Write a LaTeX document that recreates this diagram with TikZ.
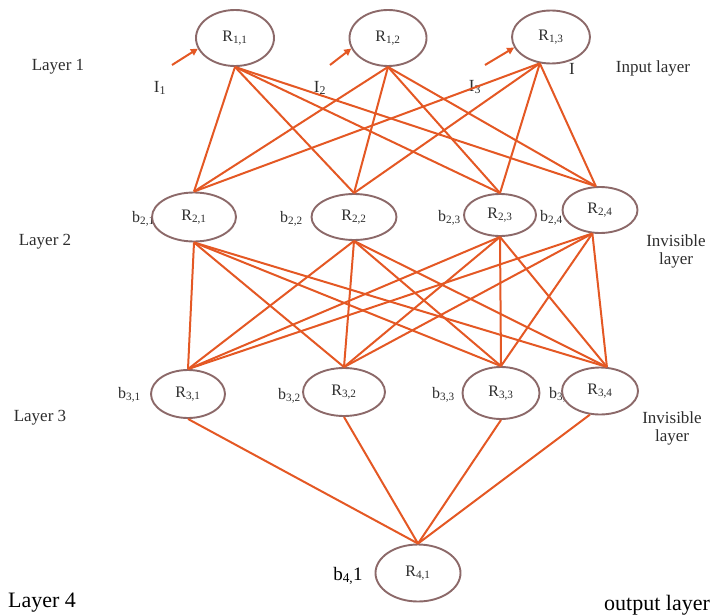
\documentclass[tikz,border=0pt]{standalone}
\usepackage{fontspec}
\setmainfont{Liberation Serif}
\usetikzlibrary{shapes.geometric,arrows.meta}
\definecolor{wirec}{RGB}{228,88,36}
\definecolor{ringc}{RGB}{140,105,105}
\definecolor{txtc}{RGB}{45,45,45}
\begin{document}
\begin{tikzpicture}[x=1pt,y=-1pt,
  neuron/.style={ellipse,draw=ringc,line width=1.9pt,fill=white,inner sep=0pt,text=txtc,font=\fontsize{16}{18}\selectfont},
  wire/.style={draw=wirec,line width=2pt},
  inarrow/.style={draw=wirec,line width=2pt,-{Triangle[length=7pt,width=7pt]}},
  lbl/.style={font=\fontsize{17}{18}\selectfont,align=center,inner sep=0pt,text=txtc},
  big/.style={font=\fontsize{22}{24}\selectfont,inner sep=0pt,text=black},
  bias/.style={font=\fontsize{16}{18}\selectfont,inner sep=0pt,anchor=west,text=txtc}]
\useasboundingbox (0,0) rectangle (711,615);

% side labels
\node[lbl] (L1) at (58,67) {Layer 1};
\node[lbl] (IL) at (653,68) {Input layer};
\node[lbl] (L2) at (45,242) {Layer 2};
\node[lbl] (HL1) at (676,251) {Invisible\\layer};
\node[lbl] (L3) at (40,418) {Layer 3};
\node[lbl] (HL2) at (672,428) {Invisible\\layer};
\node[big] (L4) at (42,603) {Layer 4};
\node[big] (OL) at (657,605) {output layer};

% input labels
\node[lbl] (I1) at (160,88) {I\textsubscript{1}};
\node[lbl] (I2) at (320,88) {I\textsubscript{2}};
\node[lbl] (I3) at (475,87) {I\textsubscript{3}};
\node[lbl] (Ix) at (572,69) {I};

% bias labels
\node[bias] (b21) at (132,219) {b\textsubscript{2,1}};
\node[bias] (b22) at (280,219) {b\textsubscript{2,2}};
\node[bias] (b23) at (438,218) {b\textsubscript{2,3}};
\node[bias] (b24) at (540,218) {b\textsubscript{2,4}};
\node[bias] (b31) at (118,395) {b\textsubscript{3,1}};
\node[bias] (b32) at (278,396) {b\textsubscript{3,2}};
\node[bias] (b33) at (432,395) {b\textsubscript{3,3}};
\node[bias] (b34) at (549,395) {b\textsubscript{3,4}};
\node[big,font=\fontsize{19}{20}\selectfont] (b41) at (348,576) {b\textsubscript{4,}1};

% neurons
\node[neuron,minimum width=78pt,minimum height=56pt] (R11) at (235,38) {R\textsubscript{1,1}};
\node[neuron,minimum width=77pt,minimum height=56pt] (R12) at (388,38) {R\textsubscript{1,2}};
\node[neuron,minimum width=78pt,minimum height=53pt] (R13) at (551,37) {R\textsubscript{1,3}};

\node[neuron,minimum width=84pt,minimum height=49pt] (R21) at (194,217) {R\textsubscript{2,1}};
\node[neuron,minimum width=85pt,minimum height=46pt] (R22) at (354,217) {R\textsubscript{2,2}};
\node[neuron,minimum width=72pt,minimum height=42pt] (R23) at (500,215) {R\textsubscript{2,3}};
\node[neuron,minimum width=75pt,minimum height=46pt] (R24) at (600,210) {R\textsubscript{2,4}};

\node[neuron,minimum width=74pt,minimum height=48pt] (R31) at (188,394) {R\textsubscript{3,1}};
\node[neuron,minimum width=82pt,minimum height=48pt] (R32) at (344,392) {R\textsubscript{3,2}};
\node[neuron,minimum width=77pt,minimum height=52pt] (R33) at (501,393) {R\textsubscript{3,3}};
\node[neuron,minimum width=76pt,minimum height=47pt] (R34) at (600,391) {R\textsubscript{3,4}};

\node[neuron,minimum width=85pt,minimum height=57pt] (R41) at (418,573) {R\textsubscript{4,1}};

% input arrows
\coordinate (i1) at (172,65);
\coordinate (i2) at (330,65);
\coordinate (i3) at (485,65);
\draw[inarrow] (i1) -- (R11.196);
\draw[inarrow] (i2) -- (R12.196);
\draw[inarrow] (i3) -- (R13.196);

% anchors where wires meet
\coordinate (s11) at (R11.south);
\coordinate (s12) at (R12.south);
\coordinate (s13) at (R13.-113);
\coordinate (n21) at (R21.north);
\coordinate (n22) at (R22.north);
\coordinate (n23) at (R23.north);
\coordinate (n24) at (R24.100);
\coordinate (s21) at (R21.south);
\coordinate (s22) at (R22.south);
\coordinate (s23) at (R23.south);
\coordinate (s24) at (R24.-108);
\coordinate (n31) at (R31.north);
\coordinate (n32) at (R32.north);
\coordinate (n33) at (R33.north);
\coordinate (n34) at (R34.74);
\coordinate (s31) at (R31.south);
\coordinate (s32) at (R32.south);
\coordinate (s33) at (R33.south);
\coordinate (s34) at (R34.-113);
\coordinate (n41) at (R41.north);

% layer 1 -> layer 2
\foreach \a in {11,12,13}{
  \foreach \b in {21,22,23,24}{
    \draw[wire] (s\a) -- (n\b);
  }
}
% layer 2 -> layer 3
\foreach \a in {21,22,23,24}{
  \foreach \b in {31,32,33,34}{
    \draw[wire] (s\a) -- (n\b);
  }
}
% layer 3 -> layer 4
\foreach \a in {31,32,33,34}{
  \draw[wire] (s\a) -- (n41);
}
\end{tikzpicture}
\end{document}
